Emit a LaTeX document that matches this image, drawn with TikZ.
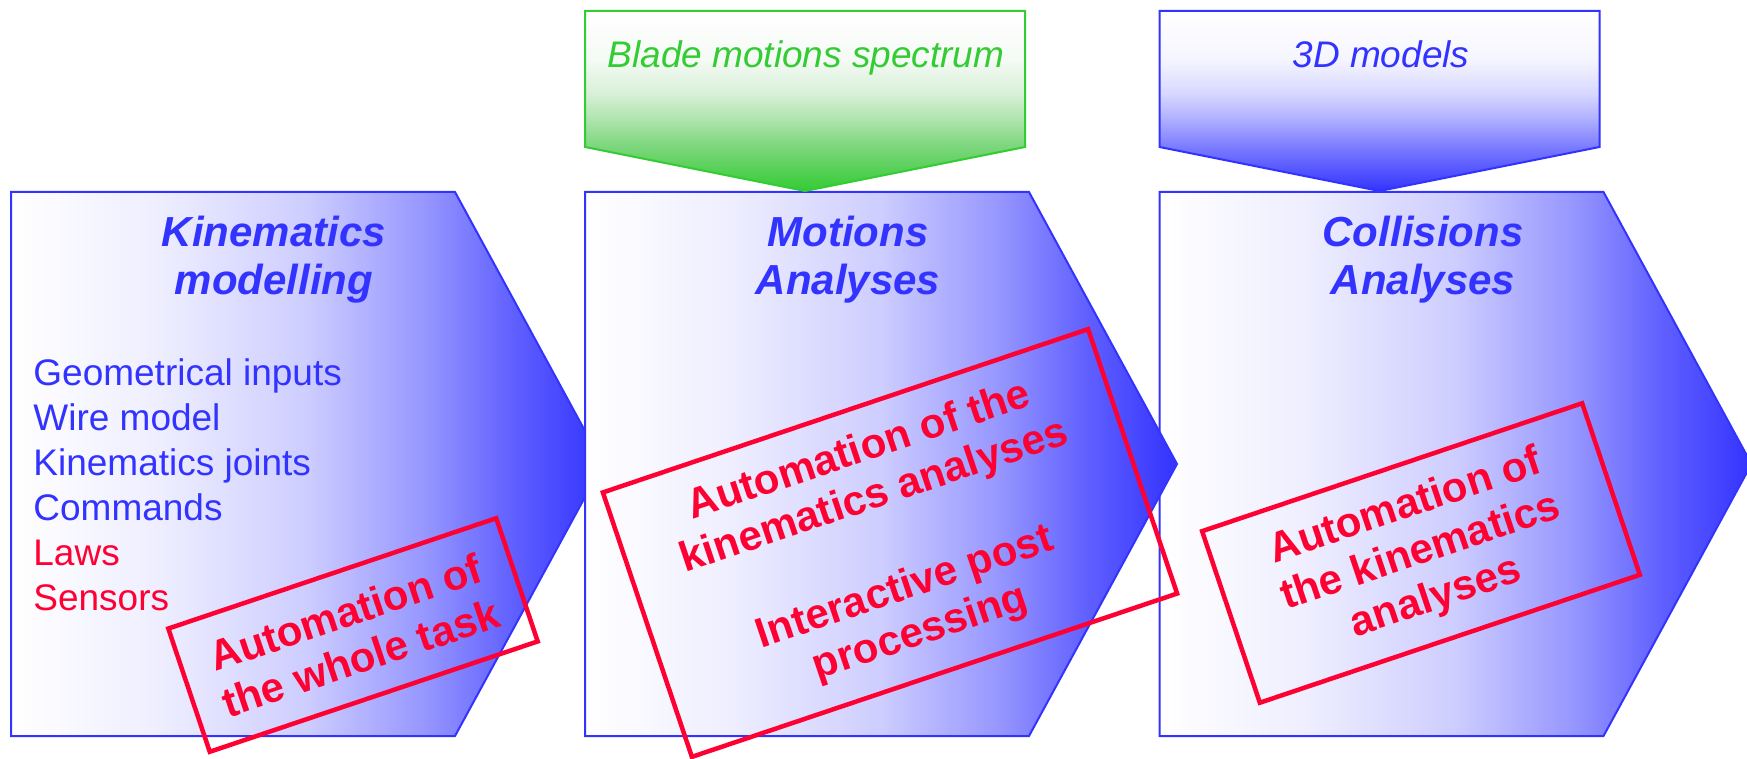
\documentclass[tikz,border=0pt]{standalone}
\usepackage{fontspec}
\setmainfont{Liberation Sans}

\definecolor{boxblue}{RGB}{51,51,255}
\definecolor{feedgreen}{RGB}{51,204,51}
\definecolor{autored}{RGB}{255,0,51}

\pgfdeclarehorizontalshading{bluefade}{100bp}{color(0bp)=(white); color(25bp)=(white);
  color(37.5bp)=(rgb,255:red,238;green,238;blue,255); color(50bp)=(rgb,255:red,205;green,205;blue,255);
  color(60bp)=(rgb,255:red,150;green,150;blue,255); color(67.5bp)=(rgb,255:red,95;green,95;blue,255);
  color(75bp)=(boxblue); color(100bp)=(boxblue)}
\pgfdeclareverticalshading{greendrop}{100bp}{color(0bp)=(feedgreen); color(25bp)=(feedgreen);
  color(37.5bp)=(rgb,255:red,125;green,214;blue,125); color(45bp)=(rgb,255:red,175;green,228;blue,175);
  color(52bp)=(rgb,255:red,215;green,240;blue,215); color(61.5bp)=(rgb,255:red,245;green,250;blue,245);
  color(75bp)=(white); color(100bp)=(white)}
\pgfdeclareverticalshading{bluedrop}{100bp}{color(0bp)=(boxblue); color(25bp)=(boxblue);
  color(37.5bp)=(rgb,255:red,125;green,125;blue,255); color(45bp)=(rgb,255:red,175;green,175;blue,255);
  color(52bp)=(rgb,255:red,215;green,215;blue,255); color(61.5bp)=(rgb,255:red,245;green,245;blue,255);
  color(75bp)=(white); color(100bp)=(white)}

\begin{document}
\begin{tikzpicture}[x=0.5pt,y=-0.5pt,
        stage/.style={shade,shading=bluefade,draw=boxblue,line width=1pt},
        feed/.style={shade,line width=1pt},
        title/.style={inner sep=0pt,anchor=base,align=center,text=boxblue,
            font=\bfseries\itshape\fontsize{21}{24.5}\selectfont},
        plain/.style={inner sep=0pt,font=\fontsize{18.5}{22.5}\selectfont},
        feedtext/.style={plain,anchor=base,font=\itshape\fontsize{18.5}{22.5}\selectfont},
        redbox/.style={draw=autored,line width=2.25pt,text=autored,rotate=18.6,align=center,
            inner sep=0pt,font=\bfseries\fontsize{21}{24}\selectfont}]
        \useasboundingbox (0,0) rectangle (1747,759);
        % stages, the middle one on top
        \foreach \l in {11,1159.5,585} {
            \path[stage] (\l,192) -- ++(444,0) -- ++(148,272) -- ++(-148,272) -- ++(-444,0) -- cycle;
        }
        % inputs from above
        \foreach \l/\c/\s in {585/feedgreen/greendrop,1159.5/boxblue/bluedrop} {
            \path[feed,draw=\c,shading=\s] (\l,11) -- ++(440,0) -- ++(0,136) -- ++(-220,44) -- ++(-220,-44) -- cycle;
        }
        \node[feedtext,text=feedgreen] (spectrum) at (806,68) {Blade motions spectrum};
        \node[feedtext,text=boxblue] (models) at (1381,68) {3D models};
        % base of a two line title is its second line
        \node[title] (kinTitle) at (274,295) {Kinematics\\modelling};
        \node[title] (motTitle) at (848,295) {Motions\\Analyses};
        \node[title] (colTitle) at (1423,295) {Collisions\\Analyses};
        \node[plain,align=left,anchor=base west,text=boxblue] (kinList) at (33,610)
            {Geometrical inputs\\Wire model\\Kinematics joints\\Commands\\
             \textcolor{autored}{Laws}\\\textcolor{autored}{Sensors}};
        \node[redbox,minimum width=173pt,minimum height=65pt] (kinAuto) at (353,635)
            {Automation of\\the whole task};
        \node[redbox,minimum width=256pt,minimum height=139.5pt] (motAuto) at (890,543)
            {Automation of the\\kinematics analyses\\[24pt]Interactive post\\processing};
        \node[redbox,minimum width=200.5pt,minimum height=90.5pt] (colAuto) at (1421,553)
            {Automation of\\the kinematics\\analyses};
\end{tikzpicture}
\end{document}
